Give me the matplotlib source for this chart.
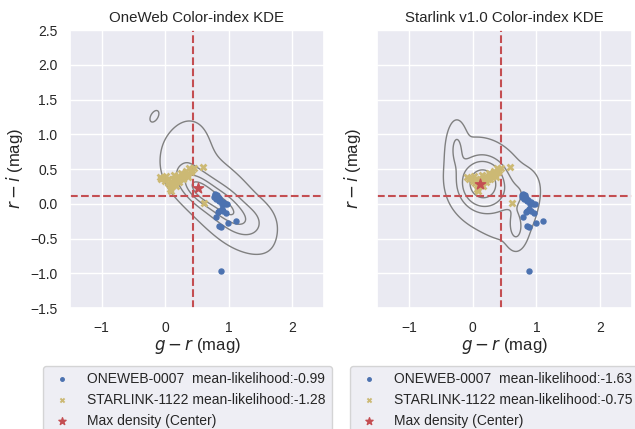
import numpy as np
import matplotlib
matplotlib.use("Agg")
import matplotlib.pyplot as plt
import seaborn as sns

# colour-index plot: OneWeb vs Starlink, KDE contours + two satellites on top

# ONEWEB-0007 measurements (g-r, r-i)
oneweb_gr = [0.785, 0.805, 0.84, 0.87, 0.85, 0.91, 0.94, 0.98, 0.77, 0.90, 0.78, 0.82, 0.80,
             0.85, 0.83, 0.89, 0.96, 0.91, 0.795, 0.99, 1.11, 0.85, 0.88, 0.88]
oneweb_ri = [0.144, 0.11, 0.086, 0.06, 0.04, 0.03, 0.0, -0.01, 0.095, -0.01, 0.12, 0.13, 0.07,
             -0.10, -0.115, -0.08, -0.13, -0.105, -0.19, -0.27, -0.25, -0.32, -0.33, -0.97]

# STARLINK-1122 measurements
starlink_gr = [-0.09, -0.06, -0.03, 0.0, 0.02, 0.04, 0.05, 0.07, 0.08, 0.09, 0.09, 0.10, 0.12,
               0.12, 0.14, 0.15, 0.17, 0.17, 0.18, 0.20, 0.21, 0.22, 0.24, 0.25, 0.27, 0.28,
               0.30, 0.33, 0.35, 0.36, 0.38, 0.40, 0.42, 0.45, 0.59, 0.61]
starlink_ri = [0.38, 0.35, 0.37, 0.33, 0.40, 0.30, 0.36, 0.21, 0.27, 0.25, 0.18, 0.32, 0.35,
               0.28, 0.42, 0.30, 0.33, 0.25, 0.37, 0.40, 0.32, 0.37, 0.35, 0.45, 0.40, 0.36,
               0.43, 0.47, 0.42, 0.38, 0.52, 0.46, 0.49, 0.52, 0.53, 0.01]

# density model of each population (gaussian components: centre, sigmas, angle, weight)
ow_cx = [0.55, 0.95, 0.88, 0.35, 1.30, -0.17]
ow_cy = [0.20, -0.05, 0.05, 0.72, -0.25, 1.26]
ow_sx = [0.22, 0.24, 0.55, 0.20, 0.20, 0.035]
ow_sy = [0.11, 0.12, 0.24, 0.28, 0.15, 0.06]
ow_ang = [-37, -37, -42, -10, -10, -35]
ow_w = [0.30, 0.30, 0.35, 0.10, 0.08, 0.003]

sl_cx = [0.15, 0.30, -0.25, 0.68, 0.75]
sl_cy = [0.29, 0.20, 0.80, -0.35, 0.15]
sl_sx = [0.21, 0.45, 0.08, 0.08, 0.15]
sl_sy = [0.21, 0.30, 0.20, 0.15, 0.20]
sl_ang = [0, -50, 0, 0, -30]
sl_w = [0.55, 0.35, 0.05, 0.04, 0.05]

# max density positions
ow_center = (0.52, 0.22)
sl_center = (0.12, 0.28)

sun_gr = 0.44
sun_ri = 0.11

ow_likelihood = [-0.99, -1.28]
sl_likelihood = [-1.63, -0.75]

iso_props = [0.05, 0.2875, 0.525, 0.7625]


def density(X, Y, cx, cy, sx, sy, ang, w):
    Z = np.zeros_like(X)
    for i in range(len(cx)):
        t = np.deg2rad(ang[i])
        dx = X - cx[i]
        dy = Y - cy[i]
        u = dx * np.cos(t) + dy * np.sin(t)
        v = -dx * np.sin(t) + dy * np.cos(t)
        Z += w[i] / (2 * np.pi * sx[i] * sy[i]) * np.exp(-0.5 * ((u / sx[i]) ** 2 + (v / sy[i]) ** 2))
    return Z


def iso_levels(Z, props):
    vals = np.sort(Z.ravel())[::-1]
    cum = np.cumsum(vals) / vals.sum()
    idx = np.searchsorted(cum, 1 - np.asarray(props))
    return np.sort(vals[idx])


sns.set_theme(style="darkgrid")
plt.rcParams["font.family"] = ["Liberation Sans", "DejaVu Sans"]

deep = sns.color_palette("deep")
c_blue = deep[0]
c_red = deep[3]
c_yel = deep[8]

gx = np.linspace(-1.5, 2.5, 400)
gy = np.linspace(-1.5, 2.5, 400)
X, Y = np.meshgrid(gx, gy)

fig = plt.figure(figsize=(6.35, 4.29), dpi=100)
ax1 = fig.add_axes([0.1102, 0.282, 0.400, 0.648])
ax2 = fig.add_axes([0.5937, 0.282, 0.4016, 0.648])

panels = [
    (ax1, "OneWeb Color-index KDE", (ow_cx, ow_cy, ow_sx, ow_sy, ow_ang, ow_w), ow_center, ow_likelihood),
    (ax2, "Starlink v1.0 Color-index KDE", (sl_cx, sl_cy, sl_sx, sl_sy, sl_ang, sl_w), sl_center, sl_likelihood),
]

for ax, title, comps, center, lik in panels:
    Z = density(X, Y, *comps)
    ax.contour(X, Y, Z, levels=iso_levels(Z, iso_props), colors="gray", linewidths=1.0)
    ax.axvline(sun_gr, color=c_red, ls="--", lw=1.5)
    ax.axhline(sun_ri, color=c_red, ls="--", lw=1.5)
    ax.scatter(oneweb_gr, oneweb_ri, s=13, color=c_blue, zorder=3,
               label="ONEWEB-0007  mean-likelihood:%.2f" % lik[0])
    ax.scatter(starlink_gr, starlink_ri, s=32, marker="X", color=c_yel, linewidths=0, zorder=3,
               label="STARLINK-1122 mean-likelihood:%.2f" % lik[1])
    ax.scatter([center[0]], [center[1]], s=60, marker="*", color=c_red, zorder=4,
               label="Max density (Center)")
    ax.set_xlim(-1.5, 2.5)
    ax.set_ylim(-1.5, 2.5)
    ax.set_xticks([-1, 0, 1, 2])
    ax.set_yticks(np.arange(-1.5, 2.51, 0.5))
    ax.tick_params(labelsize=10, pad=3)
    ax.set_title(title, fontsize=10.8)
    ax.set_xlabel(r"$g - r$ (mag)", fontsize=12, labelpad=1)
    ax.legend(loc="upper left", bbox_to_anchor=(-0.106, -0.209), fontsize=10,
              markerscale=0.7, borderaxespad=0)

ax1.set_ylabel(r"$r - i$ (mag)", fontsize=12)
ax2.set_ylabel(r"$r - i$ (mag)", fontsize=12, labelpad=10)
ax2.tick_params(labelleft=False)

fig.savefig("out.png", dpi=100)
